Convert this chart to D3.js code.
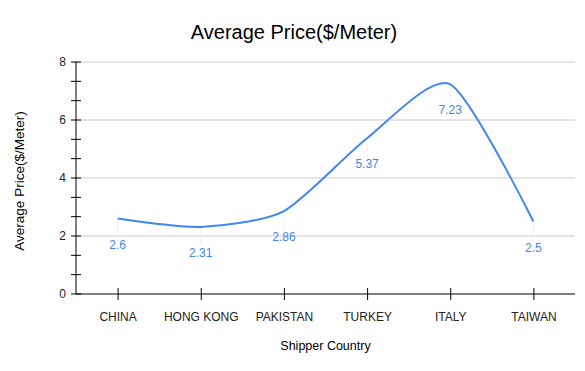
<!DOCTYPE html>
<html>
<head>
<meta charset="utf-8">
<script src="https://cdn.jsdelivr.net/npm/d3@7"></script>
<style>
  body { margin: 0; background: #fff; }
  text { font-family: "Liberation Sans", Arial, sans-serif; }
</style>
</head>
<body>
<div id="chart"></div>
<script>
const countries = ["CHINA", "HONG KONG", "PAKISTAN", "TURKEY", "ITALY", "TAIWAN"];
const prices = [2.6, 2.31, 2.86, 5.37, 7.23, 2.5];
const yTicks = [0, 2, 4, 6, 8];

const width = 585, height = 371;
const margin = { top: 62, right: 10, bottom: 77, left: 76 };
const innerWidth = width - margin.left - margin.right;
const innerHeight = height - margin.top - margin.bottom;

const svg = d3.select("#chart").append("svg")
  .attr("width", width)
  .attr("height", height);

svg.append("text")
  .attr("x", 294).attr("y", 39)
  .attr("text-anchor", "middle")
  .attr("font-size", 20)
  .text("Average Price($/Meter)");

const g = svg.append("g").attr("transform", `translate(${margin.left},${margin.top})`);

const x = d3.scalePoint().domain(countries).range([0, innerWidth]).padding(0.5);
const y = d3.scaleLinear().domain([0, 8]).range([innerHeight, 0]);

// gridlines
g.append("g")
  .selectAll("line")
  .data(yTicks.filter((d) => d > 0))
  .join("line")
  .attr("x1", 0).attr("x2", innerWidth)
  .attr("y1", (d) => y(d)).attr("y2", (d) => y(d))
  .attr("stroke", "#cccccc");

// minor ticks on y axis
const minor = d3.range(0, 8.001, 2 / 3);
g.append("g")
  .selectAll("line")
  .data(minor)
  .join("line")
  .attr("x1", -5).attr("x2", 5)
  .attr("y1", (d) => y(d)).attr("y2", (d) => y(d))
  .attr("stroke", "#000");

// y axis
const yAxis = g.append("g")
  .call(d3.axisLeft(y).tickValues(yTicks).tickSize(0).tickPadding(10));
yAxis.select(".domain").remove();
yAxis.selectAll("text").attr("font-size", 12).attr("fill", "#222").attr("font-family", "Liberation Sans, Arial, sans-serif");
g.append("line")
  .attr("x1", 0).attr("x2", 0).attr("y1", y(8)).attr("y2", innerHeight)
  .attr("stroke", "#000");

// x axis
const xAxis = g.append("g")
  .attr("transform", `translate(0,${innerHeight})`)
  .call(d3.axisBottom(x).tickSize(6).tickPadding(12));
xAxis.select(".domain").attr("d", `M0,0H${innerWidth}`).attr("stroke", "#000");
xAxis.selectAll(".tick line").attr("y1", -6).attr("stroke", "#000");
xAxis.selectAll("text").attr("font-size", 12).attr("fill", "#222").attr("font-family", "Liberation Sans, Arial, sans-serif");

// leader lines and labels
const pts = countries.map((c, i) => ({ c, v: prices[i] }));
g.append("g")
  .selectAll("line")
  .data(pts)
  .join("line")
  .attr("x1", (d) => x(d.c)).attr("x2", (d) => x(d.c))
  .attr("y1", (d) => y(d.v) + 2).attr("y2", (d) => y(d.v) + 18)
  .attr("stroke", "#eeeeee");

g.append("g")
  .selectAll("text")
  .data(pts)
  .join("text")
  .attr("x", (d) => x(d.c))
  .attr("y", (d) => y(d.v) + 30)
  .attr("text-anchor", "middle")
  .attr("font-size", 12)
  .attr("fill", "#4285f4")
  .text((d) => d.v);

// line
const line = d3.line()
  .x((d) => x(d.c))
  .y((d) => y(d.v))
  .curve(d3.curveCardinal.tension(0.3));

g.append("path")
  .datum(pts)
  .attr("d", line)
  .attr("fill", "none")
  .attr("stroke", "#4285f4")
  .attr("stroke-width", 2);

// axis titles
svg.append("text")
  .attr("x", margin.left + innerWidth / 2).attr("y", 350)
  .attr("text-anchor", "middle")
  .attr("font-size", 12.5)
  .text("Shipper Country");

svg.append("text")
  .attr("transform", `translate(24,${margin.top + innerHeight / 2 + 3}) rotate(-90)`)
  .attr("text-anchor", "middle")
  .attr("font-size", 13.5)
  .text("Average Price($/Meter)");
</script>
</body>
</html>
